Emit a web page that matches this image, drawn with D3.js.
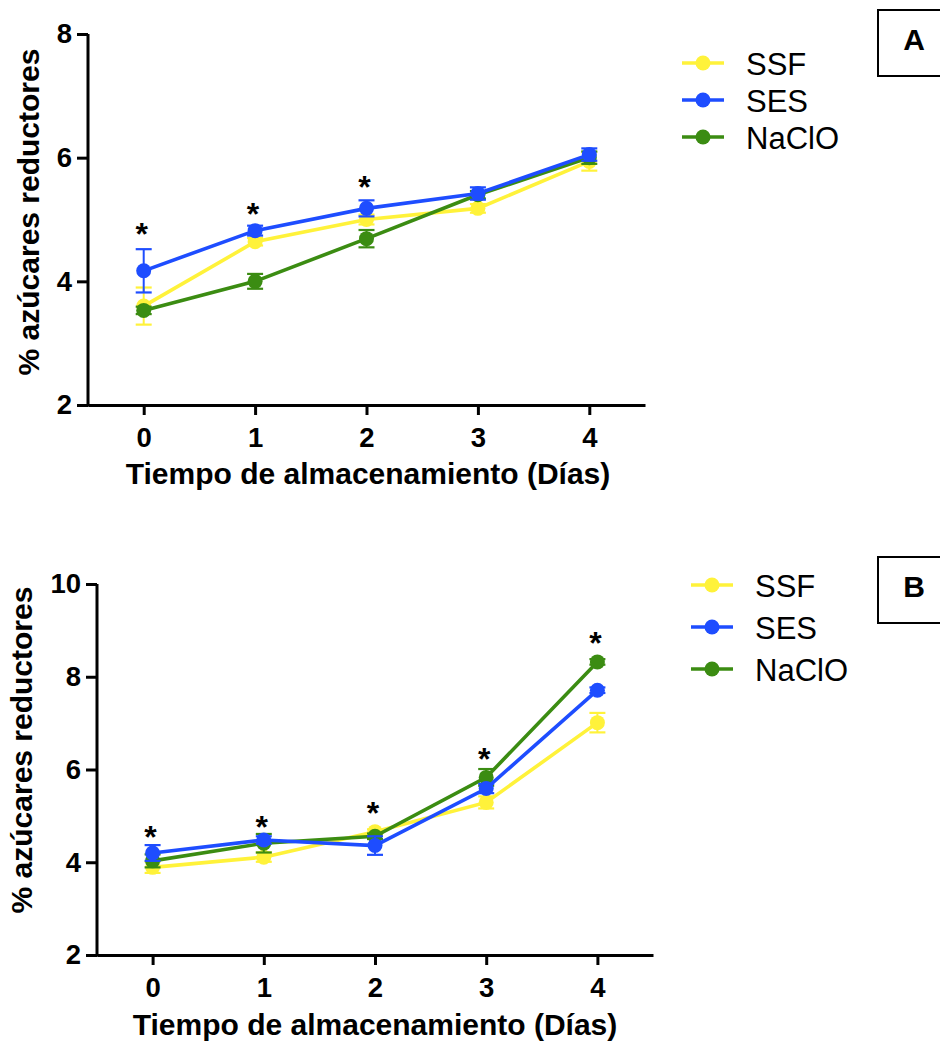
<!DOCTYPE html>
<html>
<head>
<meta charset="utf-8">
<script src="https://cdn.jsdelivr.net/npm/d3@7"></script>
<style>
  html, body { margin: 0; padding: 0; background: #fff; }
  svg { display: block; }
  text { font-family: "Liberation Sans", Arial, Helvetica, sans-serif; fill: #000; }
</style>
</head>
<body>
<svg id="fig" width="940" height="1048"></svg>
<script>
// Storage days on the x axis
const days = [0, 1, 2, 3, 4];
const seriesNames = ["SSF", "SES", "NaClO"];

// Panel A: reducing sugars (%), mean and SEM per day
const ssfA     = [3.60, 4.64, 5.00, 5.18, 5.94];
const ssfA_sem = [0.30, 0.06, 0.08, 0.07, 0.15];
const sesA     = [4.17, 4.82, 5.18, 5.42, 6.05];
const sesA_sem = [0.35, 0.08, 0.13, 0.10, 0.10];
const naclA     = [3.53, 4.00, 4.69, 5.40, 6.00];
const naclA_sem = [0.06, 0.12, 0.14, 0.06, 0.10];
// significance marks (day, height in axis units)
const starDaysA = [0, 1, 2];
const starYA    = [4.88, 5.20, 5.64];
const yTicksA   = [2, 4, 6, 8];

// Panel B
const ssfB     = [3.89, 4.11, 4.66, 5.29, 7.01];
const ssfB_sem = [0.12, 0.10, 0.05, 0.13, 0.21];
const sesB     = [4.20, 4.48, 4.36, 5.59, 7.71];
const sesB_sem = [0.17, 0.08, 0.20, 0.10, 0.06];
const naclB     = [4.03, 4.41, 4.56, 5.83, 8.32];
const naclB_sem = [0.14, 0.20, 0.06, 0.18, 0.06];
const starDaysB = [0, 1, 2, 3, 4];
const starYB    = [4.70, 4.92, 5.22, 6.38, 8.87];
const yTicksB   = [2, 4, 6, 8, 10];

const colors = { SSF: "#FFF23A", SES: "#1E4DFF", NaClO: "#3B8C12" };

const svg = d3.select("#fig");
const FONT = "'Liberation Sans', Arial, Helvetica, sans-serif";

function drawPanel(p) {
  const g = svg.append("g");
  const x = d3.scaleLinear().domain([-0.5, 4.5]).range([p.left, p.right]);
  const y = d3.scaleLinear().domain(p.yDomain).range([p.bottom, p.top]);

  // axes
  const xAxis = d3.axisBottom(x).tickValues(days).tickFormat(d3.format("d"))
    .tickSizeInner(10).tickSizeOuter(0).tickPadding(12);
  const yAxis = d3.axisLeft(y).tickValues(p.yTicks).tickFormat(d3.format("d"))
    .tickSizeInner(11).tickSizeOuter(0).tickPadding(5);

  const gx = g.append("g").attr("transform", `translate(0,${p.bottom})`).call(xAxis);
  const gy = g.append("g").attr("transform", `translate(${p.left},0)`).call(yAxis);
  [gx, gy].forEach(a => {
    a.selectAll("path.domain").attr("stroke", "#000").attr("stroke-width", 3);
    a.selectAll(".tick line").attr("stroke", "#000").attr("stroke-width", 3);
    a.selectAll(".tick text").attr("font-family", FONT).attr("font-weight", "bold")
      .attr("font-size", 27.5).attr("fill", "#000");
  });
  // extend y axis line over the x axis corner
  gy.select("path.domain").attr("d", `M0,${p.top}V${p.bottom + 1.5}`);

  // axis titles
  g.append("text")
    .attr("x", p.xTitleX).attr("y", p.xTitleY)
    .attr("text-anchor", "middle").attr("font-weight", "bold").attr("font-size", 30)
    .text("Tiempo de almacenamiento (Días)");
  g.append("text")
    .attr("transform", `translate(${p.yTitleX},${p.yTitleY}) rotate(-90)`)
    .attr("text-anchor", "middle").attr("dominant-baseline", "central")
    .attr("font-weight", "bold").attr("font-size", 30)
    .text("% azúcares reductores");

  // series: error bars, line, markers
  p.series.forEach(s => {
    const col = colors[s.name];
    const pts = days.map((d, i) => ({ d, v: s.values[i], e: s.sem[i] }));
    const sg = g.append("g");
    const eb = sg.selectAll("g.err").data(pts).join("g");
    eb.append("line")
      .attr("x1", d => x(d.d)).attr("x2", d => x(d.d))
      .attr("y1", d => y(d.v - d.e)).attr("y2", d => y(d.v + d.e))
      .attr("stroke", col).attr("stroke-width", 2);
    [-1, 1].forEach(sign => {
      eb.append("line")
        .attr("x1", d => x(d.d) - 8).attr("x2", d => x(d.d) + 8)
        .attr("y1", d => y(d.v + sign * d.e)).attr("y2", d => y(d.v + sign * d.e))
        .attr("stroke", col).attr("stroke-width", 2.2);
    });
    sg.append("path").datum(pts)
      .attr("d", d3.line().x(d => x(d.d)).y(d => y(d.v)))
      .attr("fill", "none").attr("stroke", col).attr("stroke-width", 3.6);
    sg.selectAll("circle").data(pts).join("circle")
      .attr("cx", d => x(d.d)).attr("cy", d => y(d.v)).attr("r", 7.5)
      .attr("fill", col);
  });

  // significance asterisks
  p.starDays.forEach((d, i) => {
    g.append("text")
      .attr("x", x(d) - 2).attr("y", y(p.starY[i]) + 0.56 * 32)
      .attr("text-anchor", "middle").attr("font-weight", "bold").attr("font-size", 32)
      .text("*");
  });

  // legend
  const lg = g.append("g");
  seriesNames.forEach((n, i) => {
    const ly = p.legendY + i * p.legendGap;
    lg.append("line").attr("x1", p.legendX - 21).attr("x2", p.legendX + 21)
      .attr("y1", ly).attr("y2", ly).attr("stroke", colors[n]).attr("stroke-width", 3.6);
    lg.append("circle").attr("cx", p.legendX).attr("cy", ly).attr("r", 7.5).attr("fill", colors[n]);
    lg.append("text").attr("x", p.legendX + 43).attr("y", ly + 11.5)
      .attr("font-size", 31).text(n);
  });

  // panel letter box
  g.append("rect").attr("x", 878).attr("y", p.boxY).attr("width", 80).attr("height", 66)
    .attr("fill", "none").attr("stroke", "#000").attr("stroke-width", 2);
  g.append("text").attr("x", 914).attr("y", p.boxY + 40)
    .attr("text-anchor", "middle").attr("font-weight", "bold").attr("font-size", 30)
    .text(p.letter);
}

drawPanel({
  letter: "A", boxY: 10,
  left: 88, right: 645, top: 34, bottom: 405,
  yDomain: [2, 8], yTicks: yTicksA,
  xTitleX: 368, xTitleY: 484, yTitleX: 28, yTitleY: 212,
  series: [
    { name: "SSF", values: ssfA, sem: ssfA_sem },
    { name: "NaClO", values: naclA, sem: naclA_sem },
    { name: "SES", values: sesA, sem: sesA_sem }
  ],
  starDays: starDaysA, starY: starYA,
  legendX: 703, legendY: 63, legendGap: 37
});

drawPanel({
  letter: "B", boxY: 557,
  left: 97, right: 653, top: 584, bottom: 955,
  yDomain: [2, 10], yTicks: yTicksB,
  xTitleX: 375, xTitleY: 1035, yTitleX: 21, yTitleY: 750,
  series: [
    { name: "SSF", values: ssfB, sem: ssfB_sem },
    { name: "NaClO", values: naclB, sem: naclB_sem },
    { name: "SES", values: sesB, sem: sesB_sem }
  ],
  starDays: starDaysB, starY: starYB,
  legendX: 712, legendY: 585, legendGap: 42
});
</script>
</body>
</html>
